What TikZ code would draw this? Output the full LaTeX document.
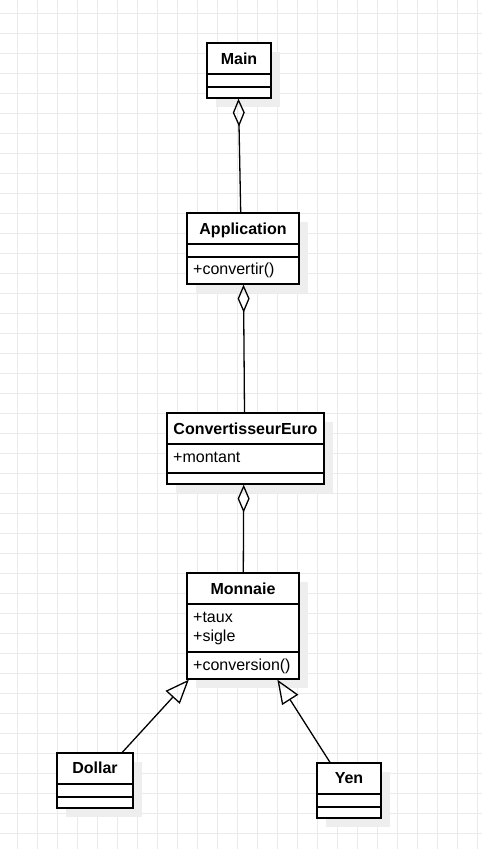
\documentclass[tikz,border=0pt]{standalone}
\usepackage{fontspec}
\setmainfont{Liberation Sans}
\usetikzlibrary{arrows.meta}
\definecolor{gridc}{HTML}{EBEBEB}
\definecolor{shadowc}{HTML}{EEEEEE}
\tikzset{
  cls/.style={draw=black, line width=1.3pt, fill=white, inner sep=0pt},
  divl/.style={draw=black, line width=1.3pt},
  shadowbox/.style={fill=shadowc},
  ctitle/.style={font=\fontsize{16}{19}\selectfont\bfseries, inner sep=0pt, anchor=base},
  cattr/.style={font=\fontsize{16}{19}\selectfont, inner sep=0pt, anchor=base west},
  agg/.style={draw=black, line width=1.3pt, -{Diamond[open, length=28pt, width=12pt]}},
  gen/.style={draw=black, line width=1.3pt, -{Triangle[open, length=24pt, width=19pt]}},
  gridline/.style={draw=gridc, line width=1pt}
}
\begin{document}
\begin{tikzpicture}[x=1pt, y=-1pt]
\useasboundingbox (0,0) rectangle (482,849);
\fill[white] (0,0) rectangle (482,849);
\foreach \gx in {17.5,37.5,...,477.5} \draw[gridline] (\gx,0) -- (\gx,849);
\foreach \gy in {13.5,33.5,...,845} \draw[gridline] (0,\gy) -- (482,\gy);

% Main
\fill[shadowbox] (216,52) rectangle (280,107);
\node[cls, minimum width=64pt, minimum height=55pt] (main) at (239,70.5) {};
\draw[divl] (main.west |- 0,74) -- (main.east |- 0,74);
\draw[divl] (main.west |- 0,87) -- (main.east |- 0,87);
\node[ctitle] (mainT) at (239,64.3) {Main};

% Application
\fill[shadowbox] (196,222) rectangle (308,293);
\node[cls, minimum width=112pt, minimum height=71pt] (app) at (243,248.5) {};
\draw[divl] (app.west |- 0,244) -- (app.east |- 0,244);
\draw[divl] (app.west |- 0,257) -- (app.east |- 0,257);
\node[ctitle] (appT) at (243,234.3) {Application};
\node[cattr] (appM) at (193,274.7) {+convertir()};

% ConvertisseurEuro
\fill[shadowbox] (176,422) rectangle (333,493);
\node[cls, minimum width=157pt, minimum height=71pt] (conv) at (245.5,448.5) {};
\draw[divl] (conv.west |- 0,444) -- (conv.east |- 0,444);
\draw[divl] (conv.west |- 0,473) -- (conv.east |- 0,473);
\node[ctitle] (convT) at (245.5,434.3) {ConvertisseurEuro};
\node[cattr] (convA) at (173,462.3) {+montant};

% Monnaie
\fill[shadowbox] (196,582) rectangle (308,688);
\node[cls, minimum width=112pt, minimum height=106pt] (mon) at (243,626) {};
\draw[divl] (mon.west |- 0,604) -- (mon.east |- 0,604);
\draw[divl] (mon.west |- 0,652) -- (mon.east |- 0,652);
\node[ctitle] (monT) at (243,594.3) {Monnaie};
\node[cattr] (monA1) at (193,622.3) {+taux};
\node[cattr] (monA2) at (193,641) {+sigle};
\node[cattr] (monM) at (193,670) {+conversion()};

% Dollar
\fill[shadowbox] (66,762) rectangle (142,817);
\node[cls, minimum width=76pt, minimum height=55pt] (dollar) at (95,780.5) {};
\draw[divl] (dollar.west |- 0,784) -- (dollar.east |- 0,784);
\draw[divl] (dollar.west |- 0,797) -- (dollar.east |- 0,797);
\node[ctitle] (dollarT) at (95,773.3) {Dollar};

% Yen
\fill[shadowbox] (326,772) rectangle (390,827);
\node[cls, minimum width=64pt, minimum height=55pt] (yen) at (349,790.5) {};
\draw[divl] (yen.west |- 0,794) -- (yen.east |- 0,794);
\draw[divl] (yen.west |- 0,807) -- (yen.east |- 0,807);
\node[ctitle] (yenT) at (349,783.3) {Yen};

% connectors
\draw[agg] ([xshift=-2.3pt]app.north) -- ([xshift=-0.5pt]main.south);
\draw[agg] ([xshift=-1pt]conv.north) -- ([xshift=0.5pt]app.south);
\draw[agg] ([xshift=0.3pt]mon.north) -- ([xshift=-1.8pt]conv.south);
\draw[gen] ([xshift=27.3pt]dollar.north) -- ([xshift=2.5pt]mon.south west);
\draw[gen] ([xshift=-19pt]yen.north) -- ([xshift=-22.3pt]mon.south east);
\end{tikzpicture}
\end{document}
